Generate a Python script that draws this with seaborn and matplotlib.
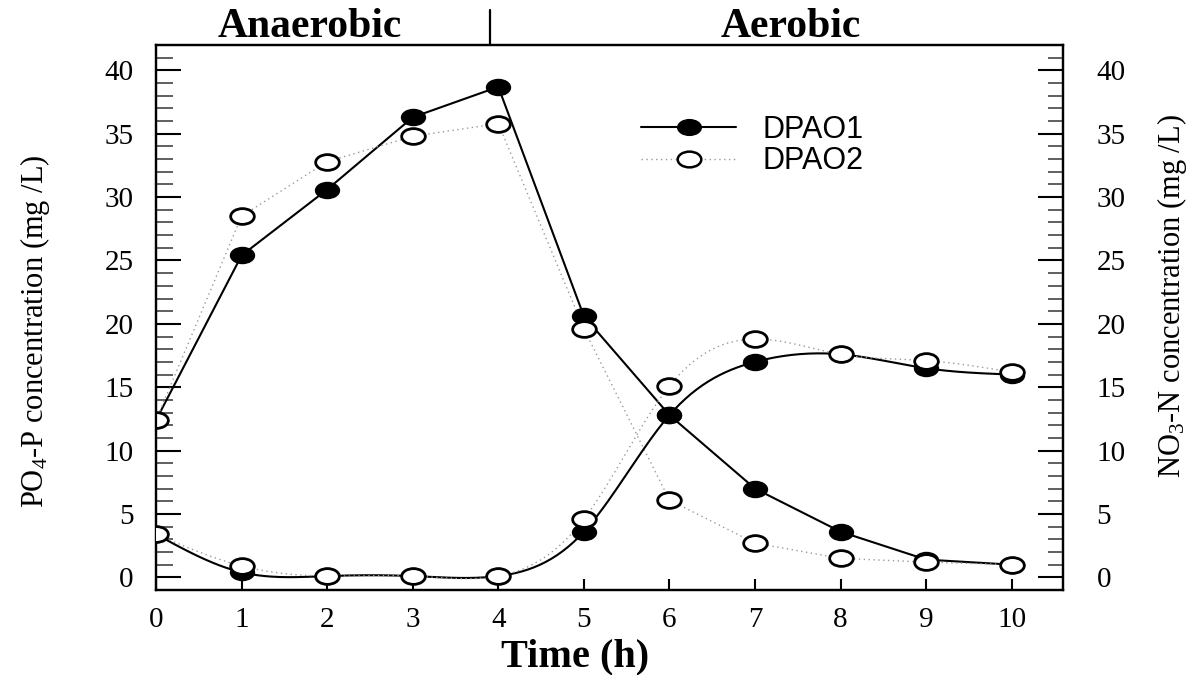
import numpy as np
import pandas as pd
import matplotlib
matplotlib.use("Agg")
import matplotlib.pyplot as plt
from matplotlib.path import Path
from matplotlib.transforms import Affine2D
from matplotlib.lines import Line2D
from matplotlib.ticker import MultipleLocator
import seaborn as sns

# ---- data -------------------------------------------------------------
time_h = [0, 1, 2, 3, 4, 5, 6, 7, 8, 9, 10]
po4_dpao1 = [12.4, 25.4, 30.6, 36.3, 38.7, 20.6, 12.8, 7.0, 3.6, 1.4, 1.0]
po4_dpao2 = [12.4, 28.5, 32.8, 34.8, 35.8, 19.6, 6.1, 2.7, 1.5, 1.2, 1.0]
no3_dpao1 = [3.4, 0.4, 0.1, 0.1, 0.1, 3.6, 12.8, 17.0, 17.6, 16.5, 16.0]
no3_dpao2 = [3.4, 0.9, 0.1, 0.1, 0.1, 4.6, 15.1, 18.8, 17.6, 17.1, 16.2]
series_names = ["DPAO1", "DPAO2"]
y_ticks = [0, 5, 10, 15, 20, 25, 30, 35, 40]
phase_labels = ["Anaerobic", "Aerobic"]
phase_split = 3.9


def natural_spline(x, y, num=300):
    """Smooth curve through the measured points (natural cubic spline)."""
    x = np.asarray(x, float)
    y = np.asarray(y, float)
    n = len(x)
    h = np.diff(x)
    A = np.zeros((n, n))
    b = np.zeros(n)
    A[0, 0] = A[-1, -1] = 1.0
    for i in range(1, n - 1):
        A[i, i - 1] = h[i - 1]
        A[i, i] = 2 * (h[i - 1] + h[i])
        A[i, i + 1] = h[i]
        b[i] = 6 * ((y[i + 1] - y[i]) / h[i] - (y[i] - y[i - 1]) / h[i - 1])
    M = np.linalg.solve(A, b)
    xs = np.linspace(x[0], x[-1], num)
    idx = np.clip(np.searchsorted(x, xs) - 1, 0, n - 2)
    x0, x1 = x[idx], x[idx + 1]
    hh = x1 - x0
    ys = (M[idx] * (x1 - xs) ** 3 / (6 * hh) + M[idx + 1] * (xs - x0) ** 3 / (6 * hh)
          + (y[idx] / hh - M[idx] * hh / 6) * (x1 - xs)
          + (y[idx + 1] / hh - M[idx + 1] * hh / 6) * (xs - x0))
    return xs, ys


# ---- style ------------------------------------------------------------
sns.set_theme(style="ticks")
plt.rcParams["font.family"] = ["Liberation Serif", "DejaVu Serif"]
plt.rcParams["mathtext.fontset"] = "custom"
plt.rcParams["mathtext.rm"] = "Liberation Serif"
plt.rcParams["mathtext.default"] = "rm"
for key in ("text.color", "axes.labelcolor", "xtick.color", "ytick.color",
            "axes.edgecolor"):
    plt.rcParams[key] = "black"

# slightly wide oval markers
oval = Path.unit_circle().transformed(Affine2D().scale(1.5, 1.0))
msize = 290
solid_kw = dict(color="black", linewidth=1.5)
dotted_kw = dict(color="#9a9a9a", linewidth=1.0, dashes=(1, 2.5))

fig = plt.figure(figsize=(12.03, 6.75), dpi=100)
ax = fig.add_axes([0.1297, 0.1259, 0.7540, 0.8074])
ax2 = ax.twinx()

df = pd.DataFrame({"time": time_h, "po4_1": po4_dpao1, "po4_2": po4_dpao2,
                   "no3_1": no3_dpao1, "no3_2": no3_dpao2})

# PO4-P: straight segments
sns.lineplot(data=df, x="time", y="po4_1", ax=ax, zorder=2, **solid_kw)
sns.lineplot(data=df, x="time", y="po4_2", ax=ax, zorder=2, **dotted_kw)
sns.scatterplot(data=df, x="time", y="po4_1", ax=ax, marker=oval, s=msize,
                color="black", edgecolor="black", linewidth=1.2, zorder=3)
sns.scatterplot(data=df, x="time", y="po4_2", ax=ax, marker=oval, s=msize,
                color="white", edgecolor="black", linewidth=2.0, zorder=4)

# NO3-N: smooth curves on the right axis
sx1, sy1 = natural_spline(time_h, no3_dpao1)
sx2, sy2 = natural_spline(time_h, no3_dpao2)
sns.lineplot(x=sx1, y=sy1, ax=ax2, sort=False, zorder=2, **solid_kw)
sns.lineplot(x=sx2, y=sy2, ax=ax2, sort=False, zorder=2, **dotted_kw)
sns.scatterplot(data=df, x="time", y="no3_1", ax=ax2, marker=oval, s=msize,
                color="black", edgecolor="black", linewidth=1.2, zorder=3)
sns.scatterplot(data=df, x="time", y="no3_2", ax=ax2, marker=oval, s=msize,
                color="white", edgecolor="black", linewidth=2.0, zorder=4)

# ---- axes -------------------------------------------------------------
for a in (ax, ax2):
    a.set_xlim(0, 10.6)
    a.set_ylim(-1, 42)
    a.set_yticks(y_ticks)
    a.yaxis.set_minor_locator(MultipleLocator(1))
    for sp in a.spines.values():
        sp.set_visible(True)
        sp.set_linewidth(1.6)
        sp.set_color("black")

ax.set_xticks(time_h)
ax.tick_params(axis="x", direction="in", length=8, width=1.5, pad=12,
               labelsize=21, top=False)
ax.tick_params(axis="y", which="major", direction="in", length=18, width=1.5,
               pad=16, labelsize=21, left=True, right=False)
ax.tick_params(axis="y", which="minor", direction="in", length=12, width=1.2,
               color="#444444", left=True, right=False)
ax2.tick_params(axis="y", which="major", direction="in", length=18, width=1.5,
                pad=24, labelsize=21, right=True, left=False)
ax2.tick_params(axis="y", which="minor", direction="in", length=11, width=1.2,
                color="#444444", right=True, left=False)
ax2.tick_params(axis="x", bottom=False, top=False, labelbottom=False)
ax.grid(False)
ax2.grid(False)

ax.set_xlabel("Time (h)", fontsize=29, fontweight="bold")
ax.xaxis.set_label_coords(0.462, -0.123)
ax.xaxis.label.set_va("center")

ax.set_ylabel(r"PO$_4$-P concentration (mg /L)", fontsize=22)
ax.yaxis.set_label_coords(-0.133, 0.475)
ax.yaxis.label.set_va("center")
ax2.set_ylabel(r"NO$_3$-N concentration (mg /L)", fontsize=22, rotation=90)
ax2.yaxis.set_label_coords(1.120, 0.539)
ax2.yaxis.label.set_va("center")

# phase annotations above the frame
ax.plot([phase_split, phase_split], [42, 44.8], color="black", lw=1.6,
        clip_on=False)
ax.text(1.8, 43.4, phase_labels[0], ha="center", va="center",
        fontsize=30, fontweight="bold", clip_on=False)
ax.text(7.42, 43.4, phase_labels[1], ha="center", va="center",
        fontsize=30, fontweight="bold", clip_on=False)

# legend
handles = [
    Line2D([], [], marker=oval, markersize=17, markerfacecolor="black",
           markeredgecolor="black", **solid_kw),
    Line2D([], [], marker=oval, markersize=17, markerfacecolor="white",
           markeredgecolor="black", markeredgewidth=1.8, color="#9a9a9a",
           linewidth=1.0, dashes=(1, 2.5)),
]
ax2.legend(handles, series_names, loc="upper left",
           bbox_to_anchor=(0.535, 0.872), frameon=False, borderaxespad=0,
           borderpad=0, handlelength=3.1, handletextpad=0.85,
           labelspacing=0.05, prop={"family": "Liberation Sans", "size": 22})

fig.savefig("out.png", dpi=100)
